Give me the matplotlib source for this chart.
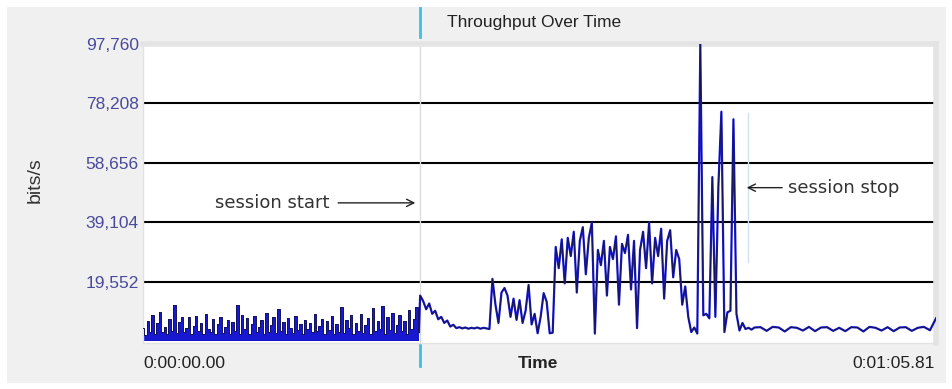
import numpy as np
import matplotlib.pyplot as plt
from matplotlib.patches import Rectangle
import matplotlib.transforms as mtransforms

# throughput samples, in thousands of bits/s
# before session start (0 - 22.9 s)
pre_session = [4.2, 2.1, 6.8, 3.0, 8.5, 2.4, 5.9, 9.6, 3.1, 4.8, 2.2, 7.4, 3.5, 11.8, 2.6, 6.2,
               8.1, 3.0, 4.4, 7.9, 2.3, 5.1, 8.3, 3.2, 6.0, 2.5, 8.8, 4.1, 3.0, 7.2, 2.4, 5.6,
               8.0, 2.8, 4.5, 7.1, 2.2, 6.4, 3.3, 11.9, 2.5, 8.6, 4.0, 7.7, 2.3, 5.8, 8.4, 3.1,
               4.6, 6.9, 2.4, 9.3, 3.0, 5.2, 7.8, 2.6, 10.6, 3.4, 6.3, 2.2, 7.5, 4.3, 2.8, 8.2,
               3.6, 5.5, 2.3, 7.0, 4.1, 6.1, 2.9, 8.9, 3.2, 5.0, 7.3, 2.5, 6.6, 3.8, 8.3, 2.4,
               5.7, 3.1, 11.2, 2.6, 7.1, 4.4, 8.7, 2.3, 6.0, 3.5, 9.1, 2.7, 5.4, 7.6, 2.2, 10.9,
               3.3, 6.5, 4.0, 11.6, 2.5, 7.9, 3.7, 9.4, 2.8, 5.3, 8.6, 3.2, 6.7, 2.4, 10.2, 4.1,
               7.3, 11.3, 3.0]
# session (from 23.0 s, every 0.25 s)
session = [15.0, 13.2, 10.5, 12.4, 9.0, 10.0, 7.2, 8.0, 6.0, 6.8, 4.8, 5.4, 4.3, 4.6, 4.2, 4.5,
           4.1, 4.4, 4.2, 4.5, 4.1, 4.4, 4.2, 4.0,
           20.5, 12.0, 6.0, 16.0, 17.5, 15.0, 8.0, 14.0, 7.0, 13.5, 6.0, 10.0, 18.5, 5.5, 9.0, 2.6,
           8.0, 15.8, 13.0, 2.6,
           2.8, 31.0, 24.0, 33.5, 19.0, 34.0, 28.0, 36.0, 16.0, 33.0, 37.5, 22.0, 34.0, 39.0, 2.5, 30.0,
           25.0, 33.0, 15.0, 31.0, 27.0, 34.5, 12.0, 32.0, 29.0, 35.0, 17.0, 33.0, 4.3, 30.0, 36.0, 24.0,
           39.0, 19.0, 34.0, 28.0, 37.0, 14.0, 33.0, 36.5, 21.0, 30.0, 27.0, 12.0, 18.0, 8.0,
           3.0, 4.5, 2.5, 97.76, 8.5, 9.0, 7.5, 54.0, 8.0, 51.0, 75.5, 3.0, 9.5, 10.0, 73.0, 9.0,
           3.5, 6.0, 4.0, 4.4, 3.8, 4.5]
# after session stop (to 65.81 s)
post_session = [4.6, 3.4, 4.7, 4.5, 3.2, 4.6, 4.4, 3.5, 4.7, 3.3, 4.5, 4.6, 3.4, 4.4, 3.3,
                4.6, 4.5, 3.2, 4.7, 4.4, 3.5, 4.6, 3.3, 4.5, 4.6, 3.4, 4.4, 4.7, 3.6, 7.5]

y_ticks = [19552, 39104, 58656, 78208, 97760]
y_labels = ["19,552", "39,104", "58,656", "78,208", "97,760"]
t_end = 65.81
session_start = 23.0
session_stop = 50.2

t1 = np.linspace(0, 22.9, len(pre_session))
t2 = session_start + 0.25 * np.arange(len(session))
t3 = np.linspace(t2[-1] + 0.5, t_end, len(post_session))
v_pre = np.array(pre_session) * 1000
t_rest = np.concatenate([t1[-1:], t2, t3])
v_rest = np.concatenate([pre_session[-1:], session, post_session]) * 1000

fig = plt.figure(figsize=(9.53, 3.89), dpi=100)
fig.patch.set_facecolor('white')
fig.patches.append(Rectangle((7 / 953, 6 / 389), 939 / 953, 376 / 389, transform=fig.transFigure,
                             facecolor='#f0f0f0', edgecolor='none', zorder=0))

ax = fig.add_axes([143 / 953, 46 / 389, 793 / 953, 299 / 389])
ax.set_zorder(2)
ax.set_facecolor('white')
ax.set_xlim(0, t_end)
ax.set_ylim(-600, 97760)

for yv in y_ticks[:-1]:
    ax.axhline(yv, color='black', lw=1.5, zorder=1)
ax.axvline(session_start, color='#dcdcdc', lw=1, zorder=1)
ax.plot([session_stop, session_stop], [26000, 75000], color='#cfe3f0', lw=1, zorder=1)

# pre-session traffic: filled bars
ax.fill_between(t1, 0, v_pre, step='mid', color='#1818d0', lw=0, zorder=2)
ax.plot(t1, v_pre, drawstyle='steps-mid', color='#12125e', lw=0.7, zorder=4)
# session and after
ax.plot(t_rest, v_rest, color='#1c1cd6', lw=1.6, zorder=3)
ax.plot(t_rest, v_rest, color='#14145a', lw=0.7, zorder=4)

ax.set_yticks(y_ticks)
ax.set_yticklabels(y_labels, color='#4a4a9c', fontsize=12.5, family='Liberation Sans')
ax.tick_params(axis='y', length=0, pad=3)
ax.set_xticks([])
for side in ['left', 'bottom']:
    ax.spines[side].set_color('#e2e2e2')
    ax.spines[side].set_linewidth(1)
for side in ['top', 'right']:
    ax.spines[side].set_color('#e4e4e4')
    ax.spines[side].set_linewidth(4)

# cyan markers at session start, above and below the plot
trans = mtransforms.blended_transform_factory(ax.transData, fig.transFigure)
ax.plot([session_start, session_start], [(389 - 8) / 389, (389 - 37) / 389], transform=trans,
        color='#3cc0e0', lw=2, clip_on=False)
ax.plot([session_start, session_start], [(389 - 345) / 389, (389 - 366) / 389], transform=trans,
        color='#3cc0e0', lw=2, clip_on=False)

fig.text(447 / 953, (389 - 22) / 389, "Throughput Over Time", fontsize=12.5, color='#222222',
         family='Liberation Sans', va='center', ha='left')
fig.text(35 / 953, (389 - 180) / 389, "bits/s", fontsize=14, color='#333333', rotation=90,
         family='Liberation Sans', va='center', ha='center')
fig.text(143 / 953, (389 - 363) / 389, "0:00:00.00", fontsize=12.5, color='#222222',
         family='Liberation Sans', va='center', ha='left')
fig.text(538 / 953, (389 - 363) / 389, "Time", fontsize=12.5, color='#222222', fontweight='bold',
         family='Liberation Sans', va='center', ha='center')
fig.text(935 / 953, (389 - 363) / 389, "0:01:05.81", fontsize=12.5, color='#222222',
         family='Liberation Sans', va='center', ha='right')

ax.annotate("session start", xy=(session_start - 0.4, 45500), xytext=(6.0, 45500),
            fontsize=13, color='#333333', va='center', ha='left',
            arrowprops=dict(arrowstyle='->', color='#222222', lw=1, shrinkA=4, shrinkB=0))
ax.annotate("session stop", xy=(session_stop - 0.1, 50500), xytext=(53.5, 50500),
            fontsize=13, color='#333333', va='center', ha='left',
            arrowprops=dict(arrowstyle='->', color='#222222', lw=1, shrinkA=2, shrinkB=0))

fig.savefig("out.png", dpi=100, facecolor=fig.get_facecolor())
